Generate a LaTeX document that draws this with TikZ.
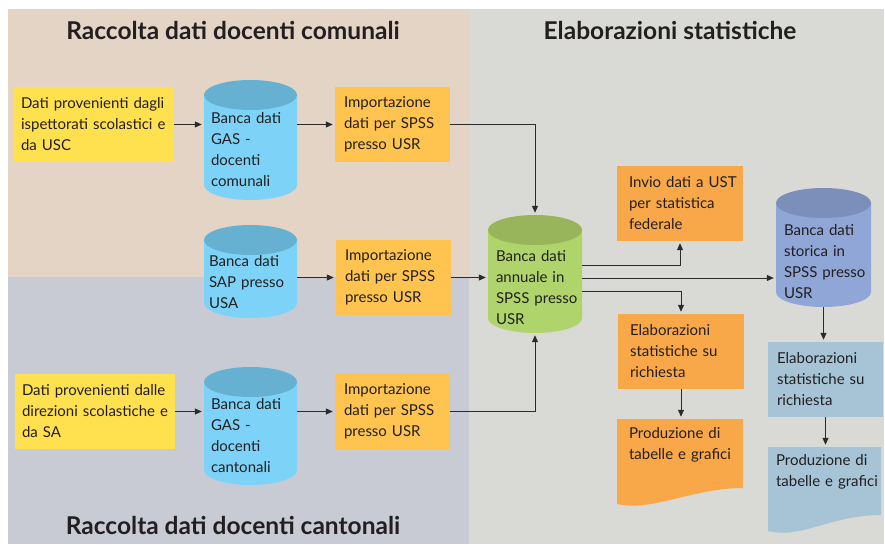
\documentclass[tikz,border=0pt]{standalone}
\usepackage{fontspec}
\setmainfont{Lato}
\usetikzlibrary{arrows.meta,calc}
\hyphenpenalty=10000\relax
\exhyphenpenalty=10000\relax
\definecolor{tanC}{HTML}{E3D4C5}
\definecolor{grayC}{HTML}{C8CBD4}
\definecolor{rightC}{HTML}{D9DAD5}
\definecolor{yelC}{HTML}{FFE150}
\definecolor{lorC}{HTML}{FFC44F}
\definecolor{orC}{HTML}{F9A849}
\definecolor{stC}{HTML}{A6C4D6}
\definecolor{cbBody}{HTML}{7DD3F7}
\definecolor{cbTop}{HTML}{66B1D1}
\definecolor{gBody}{HTML}{AFD46C}
\definecolor{gTop}{HTML}{98B55B}
\definecolor{bBody}{HTML}{8FA6D7}
\definecolor{bTop}{HTML}{7B8FBA}
\definecolor{txtC}{HTML}{231F20}
\definecolor{lineC}{HTML}{2B2B2B}
\begin{document}
\begin{tikzpicture}[x=1pt,y=1pt,
  font=\fontsize{15}{21}\selectfont, text=txtC,
  title/.style={font=\fontsize{24.5}{28}\selectfont\bfseries, anchor=base, inner sep=0pt},
  rbox/.style n args={4}{rectangle, fill=#1, minimum width=#2, minimum height=75pt,
     inner xsep=#3, inner ysep=2pt, text width=#4, align=left},
  cyl/.style n args={4}{rectangle, inner sep=0pt, minimum width=#1, minimum height=#2,
     path picture={
       \fill[#3] ([yshift=-15pt]path picture bounding box.north west) --
         ([yshift=15pt]path picture bounding box.south west)
         arc[start angle=180, end angle=360, x radius=#1/2, y radius=15pt] --
         ([yshift=-15pt]path picture bounding box.north east) -- cycle;
       \fill[#4] ([yshift=-15pt]path picture bounding box.north) ellipse[x radius=#1/2, y radius=15pt];
     }},
  docshape/.style n args={3}{rectangle, inner sep=0pt, minimum width=#1, minimum height=#2,
     path picture={
       \fill[#3] (path picture bounding box.north west) --
         ([yshift=3pt]path picture bounding box.south west)
         .. controls +(35pt,-8pt) and +(-50pt,0pt) ..
         ([yshift=19pt]path picture bounding box.south east) --
         (path picture bounding box.north east) -- cycle;
     }},
  ctext/.style={inner sep=0pt, align=left, text width=84pt, anchor=west},
  dtext/.style={inner sep=0pt, align=left, text width=104pt, anchor=north west},
  conn/.style={draw=lineC, line width=1pt},
  arr/.style={conn, -{Triangle[length=7pt,width=6pt]}, shorten >=2pt}
]
\useasboundingbox (0,0) rectangle (885,544);
% backgrounds
\fill[tanC] (8,267) rectangle (469,535);
\fill[grayC] (8,0) rectangle (469,267);
\fill[rightC] (469,0) rectangle (884,535);

% titles
\node[title] (t1) at (233,504) {Raccolta dati docenti comunali};
\node[title] (t2) at (670,504) {Elaborazioni statistiche};
\node[title] (t3) at (233,10) {Raccolta dati docenti cantonali};

% row 1
\node[rbox={yelC}{160pt}{7pt}{146pt}] (y1) at (94,419.5) {Dati~provenienti~dagli\\ispettorati~scolastici~e\\da~USC};
\node[cyl={93pt}{120pt}{cbBody}{cbTop}] (c1) at (250.5,404) {};
\node[ctext] (c1t) at ([xshift=7pt,yshift=-10pt]c1.west) {Banca~dati\\GAS~-\\docenti\\comunali};
\node[rbox={lorC}{115pt}{9pt}{97pt}] (o1) at (392.5,419.5) {Importazione\\dati~per~SPSS\\presso~USR};

% row 2
\node[cyl={93pt}{93pt}{cbBody}{cbTop}] (c2) at (250.5,272.5) {};
\node[ctext] (c2t) at ([xshift=5pt,yshift=-11pt]c2.west) {Banca~dati\\SAP~presso\\USA};
\node[rbox={lorC}{115pt}{9pt}{97pt}] (o2) at (393.5,266.5) {Importazione\\dati~per~SPSS\\presso~USR};

% row 3
\node[rbox={yelC}{160pt}{7pt}{146pt}] (y3) at (95,132.5) {Dati~provenienti~dalle\\direzioni~scolastiche~e\\da~SA};
\node[cyl={93pt}{118pt}{cbBody}{cbTop}] (c3) at (250.5,118) {};
\node[ctext] (c3t) at ([xshift=7pt,yshift=-10pt]c3.west) {Banca~dati\\GAS~-\\docenti\\cantonali};
\node[rbox={lorC}{115pt}{9pt}{97pt}] (o3) at (392.5,132.5) {Importazione\\dati~per~SPSS\\presso~USR};

% central
\node[cyl={94pt}{118pt}{gBody}{gTop}] (g) at (535,270) {};
\node[ctext] (gt) at ([xshift=8pt,yshift=-14pt]g.west) {Banca~dati\\annuale~in\\SPSS~presso\\USR};

% right side
\node[rbox={orC}{126pt}{12pt}{102pt}] (inv) at (680,340.5) {Invio~dati~a~UST\\per~statistica\\federale};
\node[cyl={95pt}{119pt}{bBody}{bTop}] (bc) at (823.5,296.5) {};
\node[ctext] (bct) at ([xshift=8pt,yshift=-14pt]bc.west) {Banca~dati\\storica~in\\SPSS~presso\\USR};
\node[rbox={orC}{126pt}{12pt}{102pt}] (el1) at (681,192.5) {Elaborazioni\\statistiche~su\\richiesta};
\node[docshape={126pt}{88pt}{orC}] (d1) at (680,81) {};
\node[dtext] (d1t) at ([xshift=12pt,yshift=-8pt]d1.north west) {Produzione~di\\tabelle~e~grafici};
\node[rbox={stC}{115pt}{9pt}{97pt}] (el2) at (825.5,164.5) {Elaborazioni\\statistiche~su\\richiesta};
\node[docshape={113pt}{87pt}{stC}] (d2) at (824.5,53.5) {};
\node[dtext] (d2t) at ([xshift=8pt,yshift=-7pt]d2.north west) {Produzione~di\\tabelle~e~grafici};

% connectors
\draw[arr] (y1.east) -- (y1.east -| c1.west);
\draw[arr] (c1.east |- o1.west) -- (o1.west);
\draw[arr] (o1.east) -| (g.north);
\draw[arr] (c2.east |- o2.west) -- (o2.west);
\draw[arr] (o2.east) -- (o2.east -| g.west);
\draw[arr] (y3.east) -- (y3.east -| c3.west);
\draw[arr] (c3.east |- o3.west) -- (o3.west);
\draw[arr] (o3.east) -| (g.south);
\draw[arr] ([yshift=8pt]g.east) -| (inv.south);
\draw[arr] ([yshift=-4pt]g.east) -- ([yshift=-4pt]g.east -| bc.west);
\draw[arr] ([yshift=-17pt]g.east) -| (el1.north);
\draw[arr] (el1.south) -- (el1.south |- d1.north);
\draw[arr] (bc.south) -- (bc.south |- el2.north);
\draw[arr] (el2.south) -- (el2.south |- d2.north);
\end{tikzpicture}
\end{document}
